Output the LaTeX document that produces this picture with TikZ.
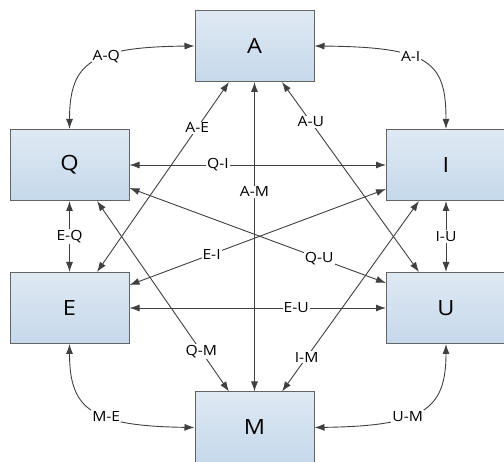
\documentclass[tikz,border=0pt]{standalone}
\usepackage{fontspec}
\setmainfont{Open Sans}[FakeStretch=1.12]
\usetikzlibrary{arrows.meta}
\definecolor{linec}{HTML}{404040}
\definecolor{boxtop}{HTML}{DFE9F3}
\definecolor{boxbot}{HTML}{C5D8EB}
\definecolor{boxline}{HTML}{646464}
\tikzset{
  box/.style={rectangle, draw=boxline, line width=1pt, top color=boxtop, bottom color=boxbot,
    minimum width=119pt, minimum height=71pt, inner sep=0pt,
    font=\fontsize{21}{24}\selectfont},
  conn/.style={draw=linec, line width=0.9pt, {Latex[length=10pt,width=7pt]}-{Latex[length=10pt,width=7pt]}},
  lab/.style={fill=white, inner sep=1pt, text=black, font=\fontsize{14}{16}\selectfont}
}
\begin{document}
\begin{tikzpicture}[x=1pt,y=-1pt]
\useasboundingbox (0,0) rectangle (504,462);
\node[box] (A) at (254.5,46) {A};
\node[box] (Q) at (69.5,165) {Q};
\node[box] (I) at (446,165) {I};
\node[box] (E) at (69.5,308) {E};
\node[box] (U) at (446,308) {U};
\node[box] (M) at (254.5,427.5) {M};

% curved connectors
\draw[conn] (Q.north) .. controls (69.5,62) and (92,47) .. node[lab,pos=0.6] {A-Q} (A.west);
\draw[conn] (I.north) .. controls (446,62) and (430,47) .. node[lab,pos=0.6] {A-I} (A.east);
\draw[conn] (E.south) .. controls (69.5,410) and (92,426) .. node[lab,pos=0.6] {M-E} (M.west);
\draw[conn] (U.south) .. controls (446,410) and (423,426) .. node[lab,pos=0.6] {U-M} (M.east);

% vertical and horizontal
\draw[conn] (A.south) -- node[lab,pos=0.355] {A-M} (M.north);
\draw[conn] (Q.east) -- node[lab,pos=0.345] {Q-I} (I.west);
\draw[conn] (E.east) -- node[lab,pos=0.65] {E-U} (U.west);
\draw[conn] (Q.south) -- node[lab] {E-Q} (E.north);
\draw[conn] (I.south) -- node[lab] {I-U} (U.north);

% diagonals
\draw[conn] ([xshift=27.5pt]E.north) -- node[lab,pos=0.76] {A-E} ([xshift=-25.5pt]A.south);
\draw[conn] ([xshift=27.5pt]A.south) -- node[lab,pos=0.21] {A-U} ([xshift=-27pt]U.north);
\draw[conn] ([xshift=27.5pt]Q.south) -- node[lab,pos=0.79] {Q-M} ([xshift=-25.5pt]M.north);
\draw[conn] ([xshift=-27pt]I.south) -- node[lab,pos=0.82] {I-M} ([xshift=27.5pt]M.north);
\draw[conn] ([yshift=-23pt]Q.east) -- node[lab,pos=0.74] {Q-U} ([yshift=25pt]U.west);
\draw[conn] ([yshift=23pt]E.east) -- node[lab,pos=0.32] {E-I} ([yshift=-24pt]I.west);
\end{tikzpicture}
\end{document}
